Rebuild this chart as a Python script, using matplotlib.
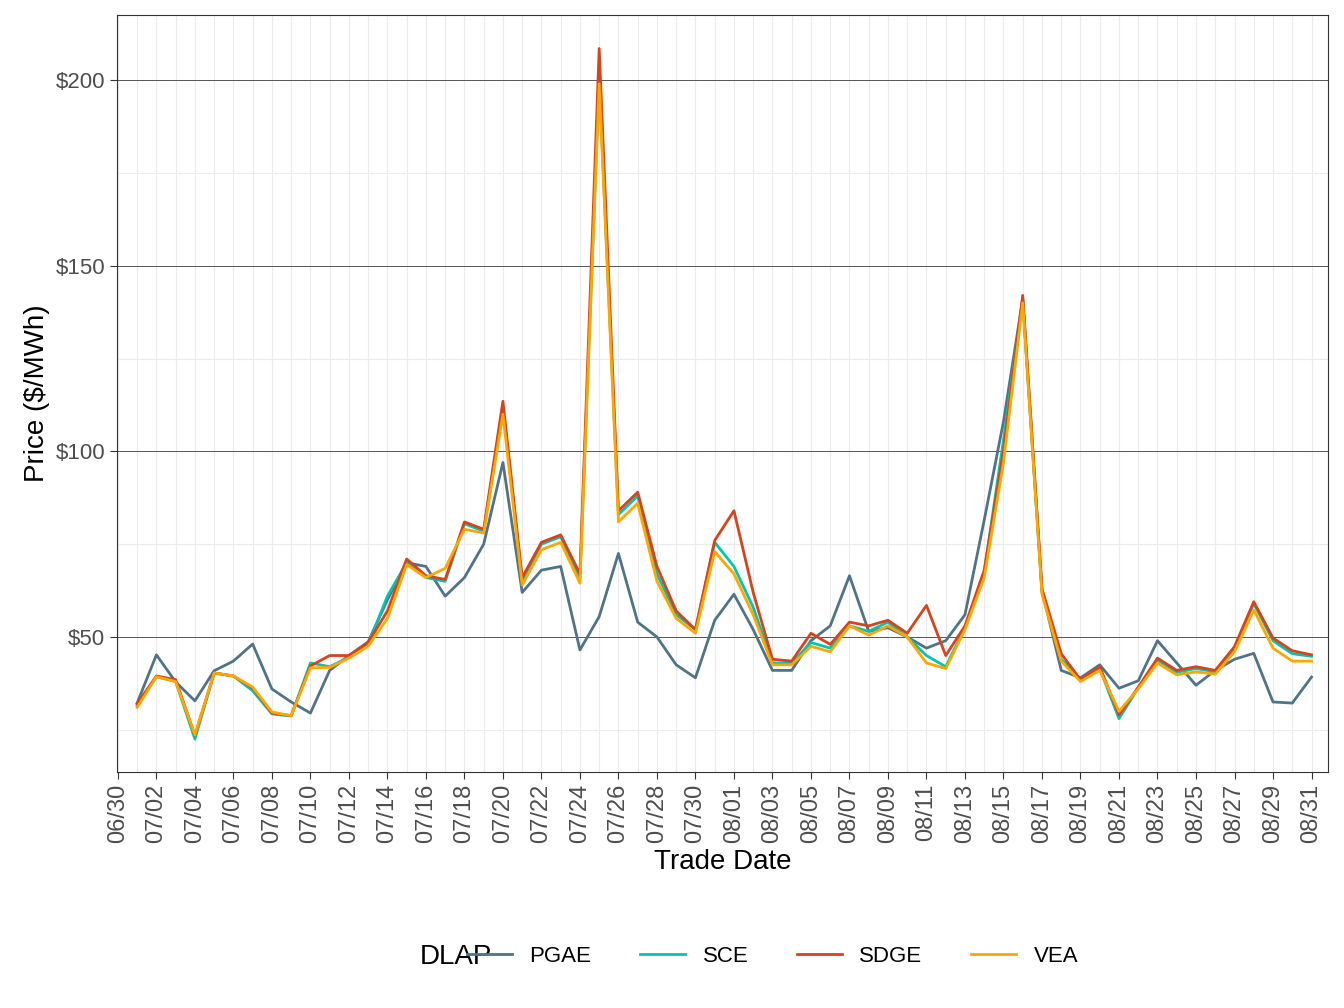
import matplotlib
matplotlib.use("Agg")
import matplotlib.pyplot as plt
import numpy as np
import pandas as pd

plt.rcParams["font.family"] = "Liberation Sans"

dates = pd.date_range("2020-07-01", "2020-08-31", freq="D")
pgae = [32.2,45.2,37.9,32.8,40.9,43.5,48.1,36,32.5,29.5,41,45,48.7,
        60,70,69,61,66,75,97,62,68,69,46.5,55.5,72.5,54,50,42.5,39,54.5,61.5,52,
        41,41,49,53,66.5,51.5,52.5,50,47,49,56,81.5,108,141,62.5,41,39,
        42.5,36.2,38.2,49,43,37,41,44,45.6,32.5,32.2,39.2]
sce = [31.5,39.3,38,22.5,40.3,39.5,35.5,29.3,28.7,43,42,44.5,48,
       61,70,66,65,80.5,78.5,112,65,75,77,66,200,83,88,67,56,52,75.5,69,58,
       43,43,48.5,47,53,51.5,54,50,45,42,52.5,67.5,103,141,62,44,38.5,
       41.5,28,36.3,43.8,40.5,41.5,40.6,47,59,49,45.5,44.8]
sdge = [32,39.5,38.5,23.5,40.3,39.5,36.3,29.5,28.8,42.2,45,45,48.5,
        57,71,66.5,65.5,81,79,113.5,66,75.5,77.5,67,208.5,84,89,69,57,52,76,84,62,
        44,43.5,51,48,54,53,54.5,51,58.5,45,53,68,100,142,63,45.5,38.5,
        42,29,36.5,44.3,41,42,41,47.4,59.5,49.7,46.3,45.2]
vea = [31,39.3,38,23.6,40.3,39.5,36.5,29.8,28.8,41.7,41.8,44.3,47.5,
       55,69.5,66,68.5,79,78,110,64,73.5,75.5,64.5,199,81,86,65,55,51,73,67,56,
       42.5,42.5,47.5,46,53,50.5,53,50,43,41.5,52,66,97,140,61.5,43.5,38,
       41,30,36,43,39.8,40.6,40,46,57.3,47,43.5,43.5]
series = {"PGAE": pgae, "SCE": sce, "SDGE": sdge, "VEA": vea}
colors = {"PGAE": "#4F7387", "SCE": "#00C4B4", "SDGE": "#D5441C", "VEA": "#FFA600"}

fig = plt.figure(figsize=(13.44, 10.08), dpi=100)
ax = fig.add_axes([0.087, 0.234, 0.901, 0.751])
x = np.arange(len(dates))
handles = []
for name, vals in series.items():
    h, = ax.plot(x, vals, color=colors[name], lw=2, label=name)
    handles.append(h)

ax.set_xlim(-1.05, 61.85)
ax.set_ylim(13.6, 217.5)
ticks = np.arange(-1, 62, 2)
ax.set_xticks(ticks)
ax.set_xticklabels([(dates[0] + pd.Timedelta(days=int(t))).strftime("%m/%d") for t in ticks],
                   rotation=90, fontsize=17, color="#4d4d4d")
ax.set_xticks(np.arange(0, 62, 2), minor=True)
ax.set_yticks([50, 100, 150, 200])
ax.set_yticklabels(["$50", "$100", "$150", "$200"], fontsize=16, color="#4d4d4d")
ax.set_yticks([25, 75, 125, 175], minor=True)
ax.grid(axis="y", which="major", color="#555555", lw=0.7)
ax.grid(axis="y", which="minor", color="#ebebeb", lw=0.8)
ax.grid(axis="x", which="both", color="#ebebeb", lw=0.8)
ax.tick_params(which="minor", length=0)
ax.tick_params(which="major", length=5, color="#333333")
ax.set_axisbelow(True)
for s in ax.spines.values():
    s.set_color("#333333")
ax.set_xlabel("Trade Date", fontsize=20)
ax.set_ylabel("Price ($/MWh)", fontsize=20)

fig.text(0.312, 0.051, "DLAP", fontsize=20, va="center")
fig.legend(handles=handles, loc="center", bbox_to_anchor=(0.575, 0.051), ncol=4,
           frameon=False, fontsize=16, handlelength=2.0, columnspacing=2.2)
fig.savefig("out.png", dpi=100)
